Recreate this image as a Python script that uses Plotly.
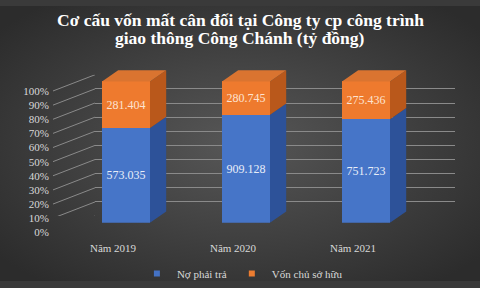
import plotly.graph_objects as go
import base64

categories = ["Năm 2019", "Năm 2020", "Năm 2021"]
no_phai_tra = [573.035, 909.128, 751.723]
von_chu_so_huu = [281.404, 280.745, 275.436]
no_labels = ["573.035", "909.128", "751.723"]
von_labels = ["281.404", "280.745", "275.436"]
y_ticks = [0, 10, 20, 30, 40, 50, 60, 70, 80, 90, 100]
y_ticklabels = [f"{t}%" for t in y_ticks]
title_lines = ["Cơ cấu vốn mất cân đối tại Công ty cp công trình",
               "giao thông Công Chánh (tỷ đồng)"]

W, H = 480, 288
SERIF = "Liberation Serif, Times New Roman, serif"
BAR_W = 0.4
DX, DY = 0.135, 8.0          # pseudo-3D depth in axis units
Y_TOP = 100 + DY + 0.5
PX_PER_PCT = 148 / 100
GRID = "#8a8a8a"

def dom(top_px, bot_px):
    return [1 - bot_px / H, 1 - top_px / H]

svg = f'''<svg xmlns="http://www.w3.org/2000/svg" width="{W}" height="{H}">
<defs><radialGradient id="g" cx="50%" cy="50%" r="65%">
<stop offset="0%" stop-color="#575757"/><stop offset="100%" stop-color="#2c2c2c"/></radialGradient></defs>
<rect width="{W}" height="{H}" fill="url(#g)"/></svg>'''
bg = "data:image/svg+xml;base64," + base64.b64encode(svg.encode()).decode()

xpos = list(range(len(categories)))
totals = [a + b for a, b in zip(no_phai_tra, von_chu_so_huu)]
pct_no = [a / t * 100 for a, t in zip(no_phai_tra, totals)]

fig = go.Figure()

# back-wall grid subplot (x, y) comes first so it is drawn underneath the bars
fig.add_trace(go.Scatter(x=[], y=[], xaxis="x", yaxis="y", showlegend=False, hoverinfo="skip"))
# helper (empty) traces so the auxiliary label axes get drawn
fig.add_trace(go.Scatter(x=[], y=[], xaxis="x2", yaxis="y3", showlegend=False, hoverinfo="skip"))
fig.add_trace(go.Scatter(x=[], y=[], xaxis="x3", yaxis="y2", showlegend=False, hoverinfo="skip"))

fig.add_trace(go.Bar(
    x=xpos, y=no_phai_tra, name="Nợ phải trả", width=BAR_W,
    xaxis="x2", yaxis="y2",
    marker=dict(color="#4675C8", line=dict(width=0)),
    text=no_labels, texttemplate="%{text}", textposition="inside",
    insidetextanchor="middle",
    textfont=dict(family=SERIF, size=12, color="#e8eef8"),
    hoverinfo="skip", showlegend=False,
))
fig.add_trace(go.Bar(
    x=xpos, y=von_chu_so_huu, name="Vốn chủ sở hữu", width=BAR_W,
    xaxis="x2", yaxis="y2",
    marker=dict(color="#EE7A2E", line=dict(width=0)),
    text=von_labels, texttemplate="%{text}", textposition="inside",
    insidetextanchor="middle",
    textfont=dict(family=SERIF, size=12, color="#fde3d0"),
    hoverinfo="skip", showlegend=False,
))

# pseudo-3D faces derived from the data
def faces(lo_list, hi_list, side):
    xs, ys = [], []
    for x, lo, hi in zip(xpos, lo_list, hi_list):
        if side == "right":
            x0 = x + BAR_W / 2
            xs += [x0, x0 + DX, x0 + DX, x0, x0, None]
            ys += [lo, lo + DY, hi + DY, hi, lo, None]
        else:  # top
            x0, x1 = x - BAR_W / 2, x + BAR_W / 2
            xs += [x0, x1, x1 + DX, x0 + DX, x0, None]
            ys += [hi, hi, hi + DY, hi + DY, hi, None]
    return xs, ys

for lo, hi, side, col in [
    ([0] * 3, pct_no, "right", "#2D5299"),
    (pct_no, [100] * 3, "right", "#B9581B"),
    (pct_no, [100] * 3, "top", "#DA7430"),
]:
    xs, ys = faces(lo, hi, side)
    fig.add_trace(go.Scatter(x=xs, y=ys, mode="lines", fill="toself",
                             xaxis="x2", yaxis="y2",
                             fillcolor=col, line=dict(width=0, color=col),
                             showlegend=False, hoverinfo="skip"))

# legend entries
fig.add_trace(go.Scatter(x=[None], y=[None], mode="markers", name="Nợ phải trả",
                         xaxis="x2", yaxis="y2",
                         marker=dict(symbol="square", size=6, color="#4472C4")))
fig.add_trace(go.Scatter(x=[None], y=[None], mode="markers", name="Vốn chủ sở hữu",
                         xaxis="x2", yaxis="y2",
                         marker=dict(symbol="square", size=6, color="#ED7D31")))

top_px = 227 - Y_TOP * PX_PER_PCT
wall_shift = 17 / PX_PER_PCT   # label axis sits 17px below the back wall

shapes = [dict(type="line", xref="paper", yref="y",
               x0=53 / W, x1=95 / W, y0=t - wall_shift, y1=t,
               line=dict(color=GRID, width=1), layer="below")
          for t in y_ticks]

annotations = [
    dict(text=title_lines[0], x=0.5, xref="paper", xanchor="center",
         y=1 - 15 / H, yref="paper", yanchor="middle", showarrow=False,
         font=dict(family=SERIF, size=17.5, color="#ffffff", weight="bold")),
    dict(text=title_lines[1], x=0.5, xref="paper", xanchor="center",
         y=1 - 33 / H, yref="paper", yanchor="middle", showarrow=False,
         font=dict(family=SERIF, size=17.5, color="#ffffff", weight="bold")),
]

fig.update_layout(
    width=W, height=H,
    margin=dict(l=0, r=0, t=0, b=0),
    paper_bgcolor="#3a3a3a",
    plot_bgcolor="rgba(0,0,0,0)",
    images=[dict(source=bg, xref="paper", yref="paper", x=0, y=1,
                 sizex=1, sizey=1, sizing="stretch", layer="below")],
    barmode="stack", barnorm="percent",
    shapes=shapes,
    annotations=annotations,
    # back wall grid
    xaxis=dict(domain=[95 / W, 455 / W], anchor="y", visible=False, range=[0, 1]),
    yaxis=dict(domain=dom(72, 220), range=[0, 100], anchor="x",
               tickvals=y_ticks[1:], showticklabels=False, showgrid=True,
               gridcolor=GRID, gridwidth=1, zeroline=False,
               showline=False, ticks=""),
    # bars
    xaxis2=dict(domain=[66 / W, 426 / W], range=[-0.5, 2.5], anchor="y2",
                showgrid=False, showline=False, zeroline=False,
                showticklabels=False),
    yaxis2=dict(domain=dom(top_px, 227), range=[0, Y_TOP], anchor="x2",
                showgrid=False, showticklabels=False, zeroline=False,
                showline=False),
    # category labels (front-left of the 3D floor)
    xaxis3=dict(domain=[53 / W, 413 / W], range=[-0.5, 2.5], anchor="y2",
                showgrid=False, showline=False, zeroline=False, ticks="",
                ticklabelstandoff=17, tickvals=xpos, ticktext=categories,
                tickfont=dict(family=SERIF, size=11, color="#d9d9d9")),
    # percentage labels
    yaxis3=dict(domain=dom(89, 237), range=[0, 100], anchor="free",
                position=49 / W, showgrid=False,
                zeroline=False, showline=False, ticks="",
                tickvals=y_ticks, ticktext=y_ticklabels,
                tickfont=dict(family=SERIF, size=11, color="#d9d9d9")),
    legend=dict(orientation="h", x=0.505, xanchor="center", y=1 - 265 / H,
                yanchor="top", bgcolor="rgba(0,0,0,0)",
                font=dict(family=SERIF, size=11, color="#d9d9d9"),
                itemwidth=30, traceorder="normal"),
    showlegend=True,
)
fig.write_html("out.html")
